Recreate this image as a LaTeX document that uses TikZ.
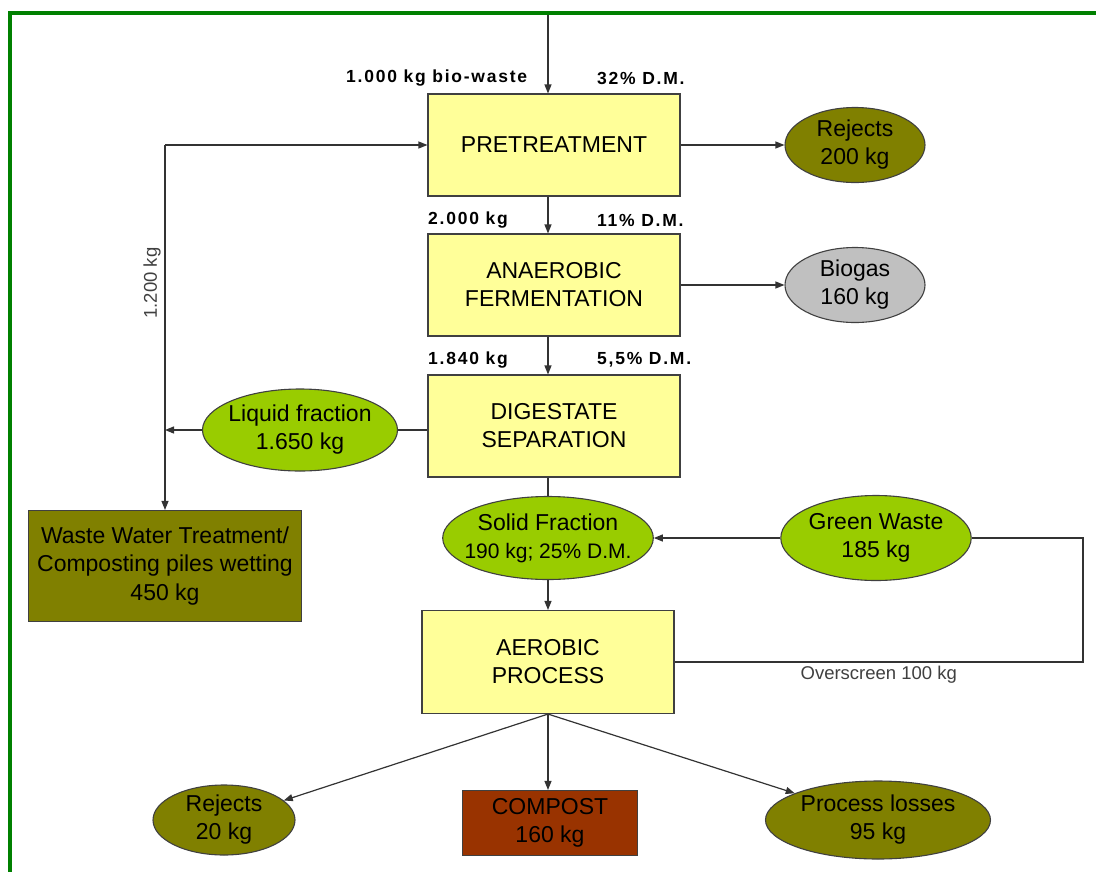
\documentclass[tikz,border=0pt]{standalone}
\usepackage{fontspec}
\setmainfont{Liberation Sans}
\newfontfamily\lblfont[LetterSpace=10]{Liberation Sans}
\usetikzlibrary{shapes.geometric,arrows.meta}
\definecolor{boxyellow}{HTML}{FFFF99}
\definecolor{olivefill}{HTML}{808000}
\definecolor{limefill}{HTML}{99CC00}
\definecolor{gasgray}{HTML}{C0C0C0}
\definecolor{compostbrown}{HTML}{993300}
\definecolor{framegreen}{HTML}{008000}
\tikzset{
  process/.style={draw=black!75, line width=1.1pt, fill=boxyellow,
        minimum width=252pt, minimum height=102pt, inner sep=0pt,
        align=center, font=\fontsize{23}{28}\selectfont},
  product/.style={draw=black!75, line width=1.1pt, inner sep=0pt,
        align=center, font=\fontsize{23}{28.5}\selectfont},
  stream/.style={ellipse, draw=black!75, line width=1.1pt, inner sep=0pt,
        align=center, font=\fontsize{23}{28}\selectfont},
  amount/.style={inner sep=0pt, font={\lblfont\bfseries\fontsize{17.5}{20}\selectfont}},
  note/.style={inner sep=3pt, text=black!75, font=\fontsize{18.5}{22}\selectfont},
  line/.style={draw=black!80, line width=1.2pt},
  arr/.style={line, -{Triangle[length=9pt,width=7pt]}},
  frame/.style={draw=framegreen, line width=4pt}
}
\begin{document}
\begin{tikzpicture}[x=1pt,y=-1pt]
\useasboundingbox (0,0) rectangle (1096,871);
\draw[frame] (10,875) -- (10,13) -- (1100,13);

% main line
\coordinate (in) at (548,15);
\node[process] (pre) at (554,145) {PRETREATMENT};
\node[process] (ana) at (554,285) {ANAEROBIC\\FERMENTATION};
\node[process] (dig) at (554,426) {DIGESTATE\\SEPARATION};
\node[stream, fill=limefill, minimum width=210pt, minimum height=83pt, inner xsep=-9pt] (sol) at (548,538)
  {Solid Fraction\\{\fontsize{21}{28}\selectfont 190 kg; 25\% D.M.}};
\node[process, minimum height=103pt] (aer) at (548,662) {AEROBIC\\PROCESS};

% side streams
\node[stream, fill=olivefill, minimum width=140pt, minimum height=75pt] (rej1) at (855,145) {Rejects\\200 kg};
\node[stream, fill=gasgray, minimum width=140pt, minimum height=75pt] (bio) at (855,285) {Biogas\\160 kg};
\node[stream, fill=limefill, minimum width=195pt, minimum height=82pt, inner xsep=-3pt] (liq) at (300,430) {Liquid fraction\\1.650 kg};
\node[stream, fill=limefill, minimum width=185pt, minimum height=85pt] (gw) at (876,538) {Green Waste\\185 kg};
\node[product, fill=olivefill, minimum width=273pt, minimum height=111pt] (ww) at (165,566)
  {Waste Water Treatment/\\Composting piles wetting\\450 kg};

% outputs
\node[stream, fill=olivefill, minimum width=142pt, minimum height=70pt] (rej2) at (224,820) {Rejects\\20 kg};
\node[product, fill=compostbrown, minimum width=175pt, minimum height=65pt] (comp) at (550,823) {COMPOST\\160 kg};
\node[stream, fill=olivefill, minimum width=225pt, minimum height=78pt] (loss) at (878,820) {Process losses\\95 kg};

% mass labels
\node[amount, anchor=west] (inkg) at (346,78) {1.000 kg bio-waste};
\node[amount, anchor=west] (indm) at (597,78) {32\% D.M.};
\node[amount, anchor=west] (prekg) at (428,220) {2.000 kg};
\node[amount, anchor=west] (predm) at (597,220) {11\% D.M.};
\node[amount, anchor=west] (anakg) at (428,360) {1.840 kg};
\node[amount, anchor=west] (anadm) at (597,360) {5,5\% D.M.};

% connectors
\coordinate (rec) at (165,145);
\coordinate (ovr) at (1083,662);
\draw[arr] (in) -- (pre.north -| in);
\draw[arr] (pre.east) -- (rej1);
\draw[arr] (pre.south -| in) -- (ana.north -| in);
\draw[arr] (ana.east) -- (bio);
\draw[arr] (ana.south -| in) -- (dig.north -| in);
\draw[line] (dig.west |- liq) -- (liq.east);
\draw[arr] (liq.west) -- (liq.west -| rec);
\draw[arr] (rec) -- (pre.west);
\draw[arr] (rec) -- (ww.north);
\node[note, rotate=90] (recl) at (152,283) {1.200 kg};
\draw[line] (dig.south -| in) -- (sol.north);
\draw[arr] (sol.south) -- (aer.north);
\draw[arr] (gw) -- (sol);
\draw[line] (gw.east) -| (ovr) -- (aer.east) node[note, midway, below] (ovrl) {Overscreen 100 kg};
\draw[arr] (aer.south) -- (rej2);
\draw[arr] (aer.south) -- (comp.north -| aer.south);
\draw[arr] (aer.south) -- (loss);
\end{tikzpicture}
\end{document}
